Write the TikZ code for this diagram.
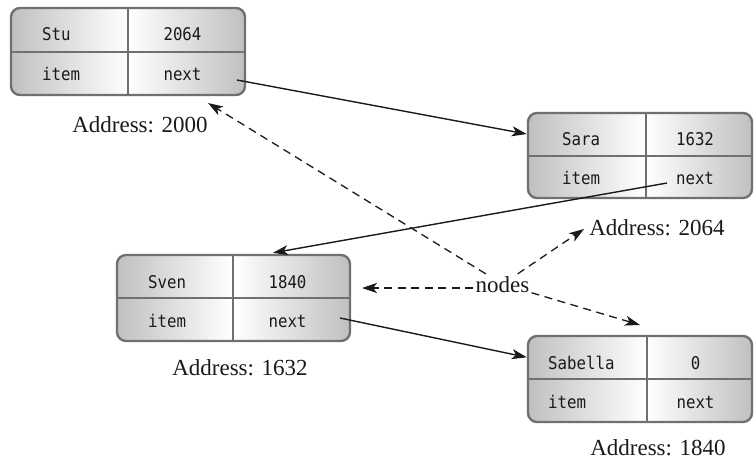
\documentclass[tikz,border=0pt]{standalone}
\usepackage{fontspec}
\setmainfont{Liberation Serif}
\newfontfamily\boxfont[FakeStretch=0.9]{DejaVu Sans Mono}
\usetikzlibrary{arrows.meta,calc}
\definecolor{bordergray}{HTML}{707070}
\definecolor{cellgray}{HTML}{C0C0C0}
\definecolor{inkblack}{HTML}{1A1A1A}
\tikzset{
  cell/.style={inner sep=0pt, draw=none},
  outerbox/.style={draw=bordergray, line width=2.4pt, rounded corners=9pt, inner sep=0pt},
  divider/.style={draw=bordergray, line width=2pt},
  boxtext/.style={font=\boxfont\fontsize{17.5}{20}\selectfont, inner sep=0pt, text=inkblack},
  addr/.style={font=\fontsize{23}{26}\selectfont, inner sep=0pt, text=inkblack},
  ptr/.style={draw=inkblack, line width=1.4pt, -{Stealth[length=15pt,width=10pt,inset=4pt]}, shorten >=1pt},
  dptr/.style={draw=inkblack, line width=1.3pt, dash pattern=on 8pt off 5.5pt, -{Stealth[length=15pt,width=10pt,inset=4pt]}},
}
% #1 name, #2 x0, #3 y0, #4 x1, #5 y1, #6 xm, #7 name text, #8 value text, #9 text x
\newcommand\llbox[9]{%
  \pgfmathsetmacro\ym{(#3+#5)/2}%
  \begin{scope}
    \clip[rounded corners=9pt] (#2,#3) rectangle (#4,#5);
    \shade[left color=cellgray,right color=white] (#2,#3) rectangle (#6,#5);
    \shade[left color=white,right color=cellgray] (#6,#3) rectangle (#4,#5);
  \end{scope}
  \node[cell, minimum width={(#6-#2)*1pt}, minimum height={(\ym-#3)*1pt}] (#1-nm) at ({(#2+#6)/2},{(#3+\ym)/2}) {};
  \node[cell, minimum width={(#4-#6)*1pt}, minimum height={(\ym-#3)*1pt}] (#1-val) at ({(#6+#4)/2},{(#3+\ym)/2}) {};
  \node[cell, minimum width={(#6-#2)*1pt}, minimum height={(#5-\ym)*1pt}] (#1-item) at ({(#2+#6)/2},{(\ym+#5)/2}) {};
  \node[cell, minimum width={(#4-#6)*1pt}, minimum height={(#5-\ym)*1pt}] (#1-next) at ({(#6+#4)/2},{(\ym+#5)/2}) {};
  \draw[divider] (#1-nm.north east) -- (#1-item.south east);
  \draw[divider] (#1-nm.south west) -- (#1-val.south east);
  \node[outerbox, minimum width={(#4-#2)*1pt}, minimum height={(#5-#3)*1pt}] (#1) at ({(#2+#4)/2},{(#3+#5)/2}) {};
  \node[boxtext, anchor=base west] (#1-t1) at ({#9},{#3+33}) {#7};
  \node[boxtext, anchor=base] (#1-t2) at ({(#6+#4)/2-4},{#3+33}) {#8};
  \node[boxtext, anchor=base west] (#1-t3) at ({#9},{#5-14}) {item};
  \node[boxtext, anchor=base] (#1-t4) at ({(#6+#4)/2-4},{#5-14}) {next};
}
\begin{document}
\begin{tikzpicture}[x=1pt,y=-1pt]
  \useasboundingbox (0,0) rectangle (756,460);
  \fill[white] (0,0) rectangle (756,460);

  \llbox{stu}{11}{8}{245}{95}{128}{Stu}{2064}{42}
  \llbox{sara}{528}{113}{752}{198}{646}{Sara}{1632}{562}
  \llbox{sven}{117}{255}{350}{341}{233}{Sven}{1840}{148}
  \llbox{sab}{528}{336}{752}{422}{647}{Sabella}{0}{548}

  \node[addr, anchor=base] (a2000) at (140,132) {Address: 2000};
  \node[addr, anchor=base] (a2064) at (657,235) {Address: 2064};
  \node[addr, anchor=base] (a1632) at (240,375) {Address: 1632};
  \node[addr, anchor=base] (a1840) at (658,455) {Address: 1840};

  \node[addr, anchor=base, inner sep=2pt] (nodes) at (502.5,292) {nodes};

  % pointer arrows
  \coordinate (p1) at (237,80);
  \coordinate (p2) at (667,183);
  \coordinate (t2) at (272,253);
  \coordinate (p3) at (340,318);
  \draw[ptr] (p1) -- (sara-nm.west);
  \draw[ptr] (p2) -- (t2);
  \draw[ptr] (p3) -- (sab-nm.west);

  % dashed arrows from "nodes"
  \coordinate (d1) at (208,103);
  \coordinate (d2) at (584,229);
  \coordinate (d3) at (362,288);
  \coordinate (d4) at (640,325);
  \draw[dptr] (nodes) -- (d1);
  \draw[dptr] (nodes) -- (d2);
  \draw[dptr] (nodes.west |- d3) -- (d3);
  \draw[dptr] (nodes) -- (d4);
\end{tikzpicture}
\end{document}
